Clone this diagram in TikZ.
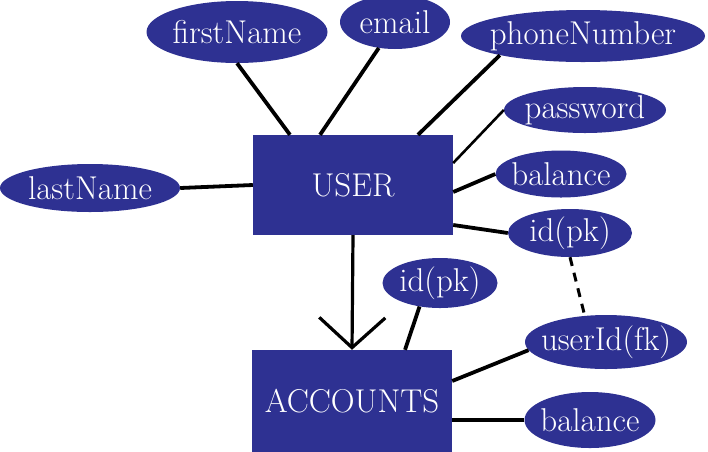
\documentclass[tikz,border=0pt]{standalone}
\usepackage{fontspec}
\usepackage{tikz}
\usetikzlibrary{shapes.geometric,arrows.meta}

\definecolor{erblue}{RGB}{46,49,146}

\begin{document}
\begin{tikzpicture}[
    x=1pt, y=-1pt,
    font=\fontsize{33}{36}\selectfont,
    entity/.style={rectangle, fill=erblue, text=white, minimum width=200pt, minimum height=100pt, inner sep=0pt},
    attr/.style={ellipse, fill=erblue, text=white, inner sep=0pt,
        execute at begin node={\hbox to 0pt\bgroup\hss},
        execute at end node={\hss\egroup}},
    link/.style={line width=3.8pt, black},
    fklink/.style={line width=3pt, black, dash pattern=on 9pt off 7pt}
]
\useasboundingbox (0,0) rectangle (708,451);

% Entities
\node[entity] (user) at (353,185) {USER};
\node[entity, minimum height=102pt] (accounts) at (352,401) {ACCOUNTS};

% Attributes of USER
\node[attr, minimum width=181pt, minimum height=62pt] (firstname) at (237,32) {firstName};
\node[attr, minimum width=110pt, minimum height=54pt] (email) at (395,22) {email};
\node[attr, minimum width=244pt, minimum height=52pt] (phone) at (583,36) {phoneNumber};
\node[attr, minimum width=162pt, minimum height=46pt] (password) at (585,110) {password};
\node[attr, minimum width=131pt, minimum height=47pt] (ubalance) at (561,174) {balance};
\node[attr, minimum width=124pt, minimum height=48pt] (uid) at (570,233) {id(pk)};
\node[attr, minimum width=180pt, minimum height=48pt] (lastname) at (90,188) {lastName};

% Attributes of ACCOUNTS
\node[attr, minimum width=115pt, minimum height=50pt] (aid) at (440,283) {id(pk)};
\node[attr, minimum width=162pt, minimum height=54pt] (userid) at (606,342) {userId(fk)};
\node[attr, minimum width=131pt, minimum height=56pt] (abalance) at (590,420) {balance};

% Connections: USER
\draw[link] (firstname.south) -- ([xshift=-63pt]user.north);
\draw[link] (email.-122) -- ([xshift=-33pt]user.north);
\draw[link] (phone.-167) -- ([xshift=65pt]user.north);
\draw[line width=2.6pt] (password.west) -- ([yshift=22pt]user.east);
\draw[link] (ubalance.west) -- ([yshift=-7pt]user.east);
\draw[link] (uid.west) -- ([yshift=-40pt]user.east);
\draw[link] (lastname.east) -- (user.west);

% Relationship USER -> ACCOUNTS
\draw[link, line width=3.2pt, -{Straight Barb[length=30pt, width=66pt]}] (user.south) -- (accounts.north);

% Connections: ACCOUNTS
\draw[link] (aid.-131) -- ([xshift=53pt]accounts.north);
\draw[link] (userid.-174) -- ([yshift=20pt]accounts.east);
\draw[link] (abalance.west) -- ([yshift=-19pt]accounts.east);

% Foreign key reference
\draw[fklink] (uid.south) -- (userid.129);

\end{tikzpicture}
\end{document}
